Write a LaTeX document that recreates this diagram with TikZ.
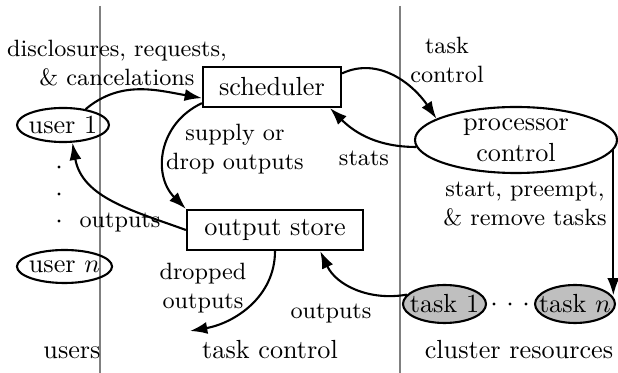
\documentclass[tikz,border=0pt]{standalone}
\usetikzlibrary{shapes.geometric,arrows.meta}
\begin{document}
\begin{tikzpicture}[x=0.3817pt,y=0.3817pt,
  box/.style={draw,thick,rectangle,inner sep=0pt,minimum height=15.3pt},
  oval/.style={draw,thick,ellipse,inner sep=-30pt},
  task/.style={oval,fill=gray!50},
  lab/.style={font=\small,align=center,inner sep=0pt},
  zone/.style={inner sep=0pt,anchor=base},
  arr/.style={thick,-{Latex[length=6.6pt,width=4.6pt]}},
  sep/.style={gray,line width=0.7pt},
  dot/.style={fill=black}]
\useasboundingbox (0,0) rectangle (618,-373);
\draw[sep] (100,-6) -- (100,-373);
\draw[sep] (400,-6) -- (400,-373);

\node[box,minimum width=52.7pt] (sched) at (272,-87) {scheduler};
\node[box,minimum width=67.2pt] (ostore) at (275,-230) {output store};
\node[oval,minimum width=35.1pt,minimum height=13pt] (u1) at (63,-125) {user 1};
\node[oval,minimum width=36.3pt,minimum height=12.6pt] (un) at (64.5,-266.5) {user $n$};
\node[oval,minimum width=77.1pt,minimum height=25.2pt,align=center] (pc) at (516,-140) {processor\\control};
\node[task,minimum width=31.7pt,minimum height=14.5pt] (t1) at (444.5,-304) {task 1};
\node[task,minimum width=30.5pt,minimum height=14.5pt] (tn) at (575,-304) {task $n$};

\fill[dot] (59,-167) circle (1.6);
\fill[dot] (59,-194) circle (1.6);
\fill[dot] (59,-221) circle (1.6);
\fill[dot] (494,-304) circle (1.6);
\fill[dot] (510,-304) circle (1.6);
\fill[dot] (526,-304) circle (1.6);

\node[lab] (l1) at (117,-63) {disclosures, requests,\\\& cancelations};
\node[lab] (l2) at (235,-149) {supply or\\drop outputs};
\node[lab,anchor=base] (l3) at (364,-166) {stats};
\node[lab] (l4) at (447,-60) {task\\control};
\node[lab] (l5) at (525,-204) {start, preempt,\\\& remove tasks};
\node[lab,anchor=base] (l6) at (120,-228) {outputs};
\node[lab] (l7) at (203,-288) {dropped\\outputs};
\node[lab,anchor=base] (l8) at (331,-319) {outputs};

\node[zone] (z1) at (72,-359) {users};
\node[zone] (z2) at (270,-359) {task control};
\node[zone] (z3) at (519,-359) {cluster resources};

\draw[arr] (u1.35) to[out=40,in=170] (sched.189);
\draw[arr] (sched.193) to[out=205,in=135,looseness=1.15] (ostore.north west);
\draw[arr] (ostore.west) to[out=160,in=-80] (u1.-62);
\draw[arr] (sched.11) to[out=25,in=124] (pc.165);
\draw[arr] (pc.184) to[out=180,in=-45] (sched.-20);
\draw[arr] (pc.-6.7) -- (pc.-6.7 |- tn.13);
\draw[arr] (t1.166) to[out=190,in=-65] (ostore.-25.5);
\coordinate (drop) at (190,-331);
\draw[arr] (ostore.south) to[out=-90,in=10] (drop);
\end{tikzpicture}
\end{document}
